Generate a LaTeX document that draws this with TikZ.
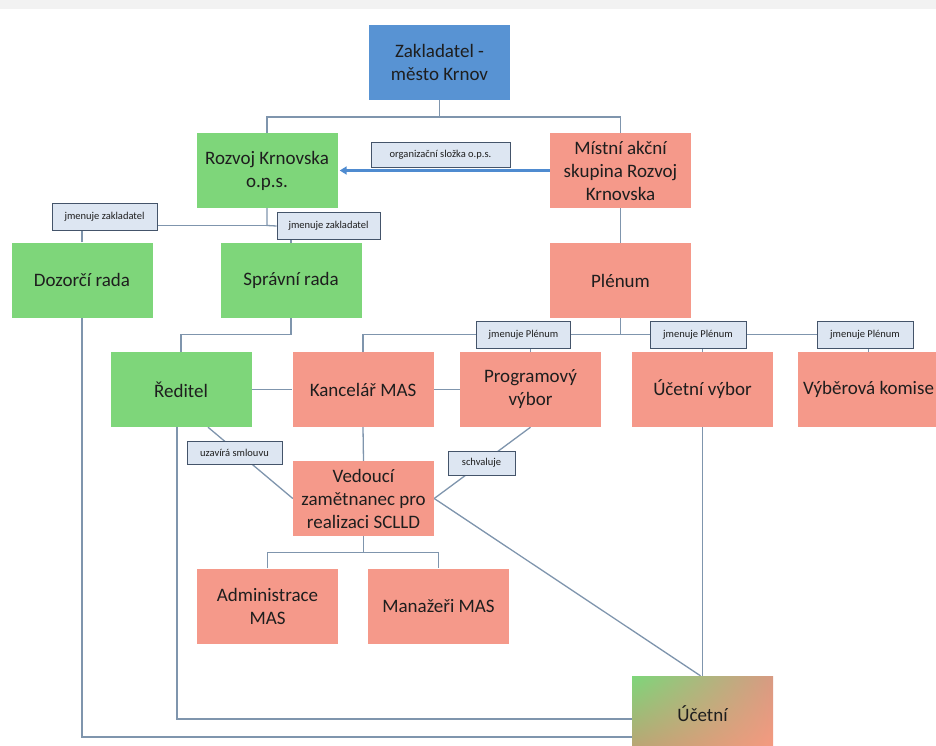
\documentclass[tikz,border=0pt]{standalone}
\usepackage{fontspec}
\setmainfont{Carlito}
\usetikzlibrary{backgrounds,arrows.meta,calc,shadings}
\definecolor{gbox}{HTML}{7ED67A}
\definecolor{sbox}{HTML}{F5998A}
\definecolor{bbox}{HTML}{5893D3}
\definecolor{lfill}{HTML}{DDE6F2}
\definecolor{ldraw}{HTML}{44546A}
\definecolor{conn}{HTML}{7F95AD}
\definecolor{txt}{HTML}{1E1E1E}
\definecolor{arr}{HTML}{4F8BD0}
\definecolor{mixur}{HTML}{D89A82}
\definecolor{mixll}{HTML}{BDA274}
\definecolor{peach}{HTML}{F79A80}
\begin{document}
\begin{tikzpicture}[x=1pt,y=-1pt,
  box/.style={minimum width=141pt,minimum height=75pt,inner sep=2pt,align=center,text=txt,font=\fontsize{19}{23}\selectfont},
  gbx/.style={box,fill=gbox},
  sbx/.style={box,fill=sbox},
  lab/.style={draw=ldraw,line width=0.9pt,fill=lfill,inner sep=0pt,text=txt,font=\fontsize{10.5}{12}\selectfont},
  con/.style={draw=conn,line width=1.3pt}]
\useasboundingbox (0,0) rectangle (936,746);
% boxes
\node[box,fill=bbox] (zak) at (439.5,62.5) {Zakladatel -\\město Krnov};
\node[gbx] (rozvoj) at (267,170.5) {Rozvoj Krnovska\\o.p.s.};
\node[sbx] (mas) at (620.5,170.5) {Místní akční\\skupina Rozvoj\\Krnovska};
\node[gbx] (dozorci) at (82,280) {Dozorčí rada};
\node[gbx] (spravni) at (291,280.5) {Správní rada};
\node[sbx] (plenum) at (620.5,280.5) {Plénum};
\node[gbx] (reditel) at (181,389.5) {Ředitel};
\node[sbx] (kancelar) at (363,389.5) {Kancelář MAS};
\node[sbx] (program) at (530.5,389.5) {Programový\\výbor};
\node[sbx] (ucvybor) at (702.5,389.5) {Účetní výbor};
\node[sbx] (vyber) at (868.5,389.5) {Výběrová komise};
\node[sbx] (vedouci) at (363.5,498.5) {Vedoucí\\zamětnanec pro\\realizaci SCLLD};
\node[sbx] (admin) at (267.5,606) {Administrace\\MAS};
\node[sbx] (manazeri) at (438.5,606) {Manažeři MAS};
\node[box,shading=color wheel white center,shade,upper left=gbox,upper right=mixur,lower left=mixll,lower right=peach] (ucetni) at (702.5,713.5) {Účetní};
% labels
\node[lab,minimum width=139pt,minimum height=25pt] (org) at (440.5,154.5) {organizační složka o.p.s.};
\node[lab,minimum width=105pt,minimum height=27pt] (jz1) at (104.5,216.5) {jmenuje zakladatel};
\node[lab,minimum width=103pt,minimum height=27pt] (jz2) at (328.5,226) {jmenuje zakladatel};
\node[lab,minimum width=94pt,minimum height=27pt] (jp1) at (523.5,334.5) {jmenuje Plénum};
\node[lab,minimum width=96pt,minimum height=27pt] (jp2) at (698,334.5) {jmenuje Plénum};
\node[lab,minimum width=96pt,minimum height=27pt] (jp3) at (865,334.5) {jmenuje Plénum};
\node[lab,minimum width=95pt,minimum height=23pt] (uzav) at (234.5,453) {uzavírá smlouvu};
\node[lab,minimum width=67pt,minimum height=24pt] (schv) at (481.5,463) {schvaluje};
% connectors
\begin{scope}[on background layer]
\fill[black!5] (0,0) rectangle (936,9);
\coordinate (t1) at (439.5,117);
\draw[con] (zak.south) -- (t1);
\draw[con] (rozvoj.north) |- (t1) -| (mas.north);
\coordinate (c1) at (267,225.5);
\draw[con] (rozvoj.south) -- (c1) -- (jz2.west);
\draw[con] (c1) -- (c1 -| jz1.east);
\draw[con] (dozorci.north) -- (dozorci.north |- jz1.south);
\draw[con] (spravni.north) -- (spravni.north |- jz2.south);
\draw[con] (mas.south) -- (plenum.north);
\draw[con] (spravni.south) -- ++(0,16) -| (reditel.north);
\coordinate (p1) at (620.5,334.5);
\draw[con] (plenum.south) -- (p1);
\draw[con] (kancelar.north) |- (jp1.west);
\draw[con] (jp1.east) -- (jp2.west);
\draw[con] (jp2.east) -- (jp3.west);
\draw[con] (program.north) -- (program.north |- jp1.south);
\draw[con] (ucvybor.north) -- (ucvybor.north |- jp2.south);
\draw[con] (vyber.north) -- (vyber.north |- jp3.south);
\draw[con] (reditel.east) -- (kancelar.west);
\draw[con] (kancelar.east) -- (program.west);
\draw[con] (kancelar.south) -- (vedouci.north);
\draw[con] ($(reditel.south)+(27,0)$) -- (vedouci.west);
\draw[con] (program.south) -- (vedouci.east);
\draw[con] (vedouci.east) -- ($(ucetni.north)+(-2,0)$);
\draw[con] (ucvybor.south) -- (ucetni.north);
\draw[con] (vedouci.south) -- ++(0,16) coordinate (v1);
\draw[con] (admin.north) |- (v1) -| (manazeri.north);
\coordinate (d1) at (82,737);
\draw[con] (dozorci.south) -- (d1) -- (d1 -| ucetni.west);
\coordinate (r1) at (177,719);
\draw[con] (reditel.south -| r1) -- (r1) -- (r1 -| ucetni.west);
\end{scope}
\draw[arr,line width=2.4pt,-{Triangle[length=7pt,width=8pt]}] (mas.west) -- ($(rozvoj.east)+(2,0)$);
\end{tikzpicture}
\end{document}
